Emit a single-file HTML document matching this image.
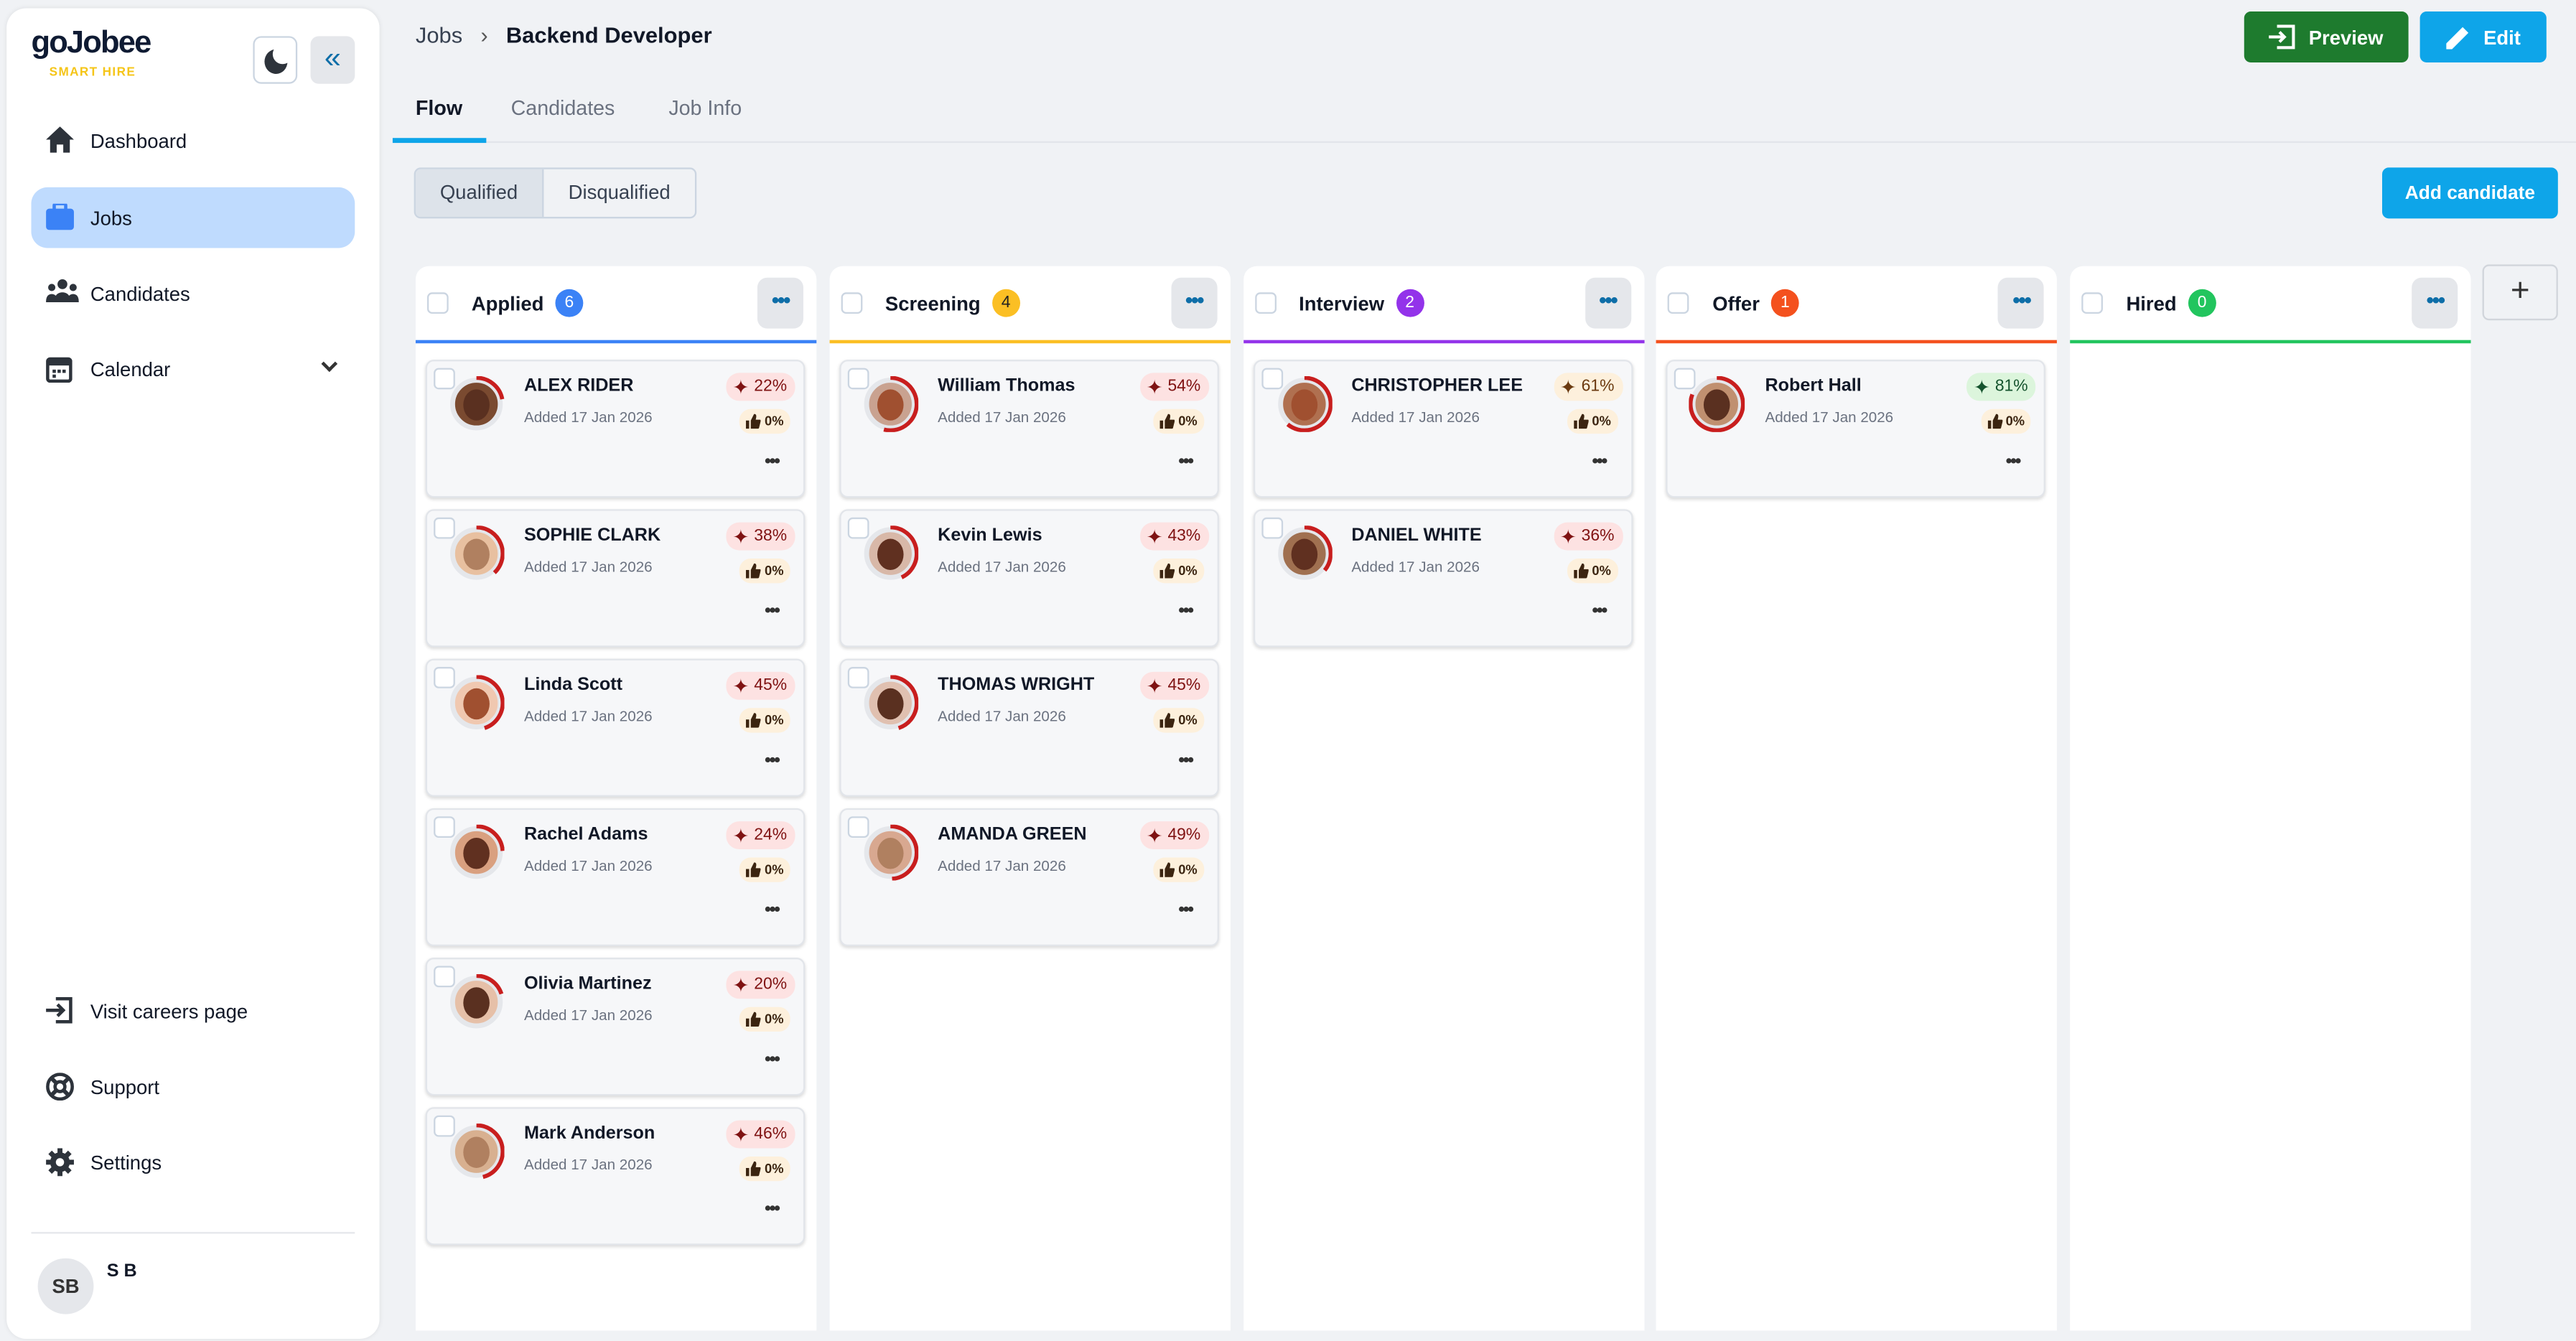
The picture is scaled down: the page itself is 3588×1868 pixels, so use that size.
<!DOCTYPE html>
<html><head><meta charset="utf-8">
<style>
*{box-sizing:border-box;margin:0;padding:0}
html,body{width:3588px;height:1868px;overflow:hidden;background:#f0f2f5}
#root{width:1568px;height:816px;transform:scale(2.28827);transform-origin:0 0;position:relative;font-family:"Liberation Sans",sans-serif;color:#111827;background:#f0f2f5}
.abs{position:absolute}
.side{left:4px;top:5px;width:227px;height:810px;background:#fff;border-radius:12px;box-shadow:0 0 3px rgba(0,0,0,.08)}
.nav{position:absolute;left:15px;width:197px;height:37px;display:flex;align-items:center;font-size:12px;padding-left:36px;border-radius:10px}
.nav svg{position:absolute;left:9px;top:10px}
.col{position:absolute;top:162px;width:244px;height:648px;background:#fff;border-radius:8px 8px 0 0}
.colhead{height:47px;border-bottom:2px solid;display:flex;align-items:center;position:relative}
.cb{width:13px;height:13px;border:1.5px solid #cbd5e1;border-radius:3px;background:#fff}
.badge{display:inline-flex;align-items:center;justify-content:center;width:17px;height:17px;border-radius:50%;font-size:10px;color:#fff;margin-left:7px}
.more{position:absolute;right:8px;top:7px;width:28px;height:31px;background:#e5e7eb;border-radius:6px;color:#0e6ea8;font-size:13px;font-weight:bold;text-align:center;line-height:28px;letter-spacing:-1px}
.card{position:absolute;left:6px;width:231px;height:84px;background:#f6f7f9;border:1px solid #e2e5ea;border-radius:5px;box-shadow:0 1px 2px rgba(0,0,0,.15)}
.card .cb{position:absolute;left:4px;top:4px;width:13px;height:13px;border-radius:3px}
.av{position:absolute;left:14px;top:10px;width:32px;height:32px;border-radius:50%;border:3px solid #e5e7eb;background:#c79a7a}
.av i{position:absolute;left:5px;top:4px;width:16px;height:19px;border-radius:50%;background:#7a4d35}
.nm{position:absolute;left:59px;top:9px;font-size:11px;font-weight:bold;color:#111827}
.dt{position:absolute;left:59px;top:29px;font-size:9px;color:#6b7280}
.sc{position:absolute;right:5px;top:7px;height:17px;padding:0 5px 0 4px;border-radius:8px;background:#fde2e2;color:#7f1212;font-size:10px;display:flex;align-items:center;gap:3px}
.th{position:absolute;right:8px;top:29px;height:15px;padding:0 4px;border-radius:7px;background:#fdf0dc;color:#3b2410;font-size:8px;font-weight:bold;display:flex;align-items:center;gap:2px}
.cd{position:absolute;right:15px;top:55px;font-size:11px;font-weight:bold;color:#333;letter-spacing:-1px}
.btn{position:absolute;top:7px;height:31px;border-radius:4px;color:#fff;font-size:12px;font-weight:bold;display:flex;align-items:center;justify-content:center;gap:8px}
</style></head><body>
<div id="root">
<div class="abs side">
  <div class="abs" style="left:15px;top:11px;font-size:19px;font-weight:900;color:#0f1b33;letter-spacing:-.8px">goJobee</div>
  <div class="abs" style="left:26px;top:34px;font-size:7.5px;font-weight:bold;color:#f5c518;letter-spacing:.6px">SMART HIRE</div>
  <div class="abs" style="left:150px;top:17px;width:27px;height:29px;border:1px solid #cbd5e1;border-radius:5px;background:#fff"><div style="position:absolute;left:6px;top:7px;width:14px;height:15px;border-radius:50%;background:#2d333b"></div><div style="position:absolute;left:11px;top:4px;width:12px;height:12px;border-radius:50%;background:#fff"></div></div>
  <div class="abs" style="left:185px;top:17px;width:27px;height:29px;border-radius:5px;background:#e5e7eb;color:#0e6ea8;font-size:18px;text-align:center;line-height:27px">«</div>
  <div class="nav" style="top:62px"><svg width="17" height="16" viewBox="0 0 17 16"><path d="M8.5 0L0 8h2.5v8h4v-5h4v5h4V8H17z" fill="#2d333b"/></svg>Dashboard</div>
  <div class="nav" style="top:109px;background:#bfdbfe"><svg width="17" height="16" viewBox="0 0 17 16"><rect x="0" y="3" width="17" height="13" rx="2" fill="#3b82f6"/><rect x="5" y="0" width="7" height="5" rx="1" fill="none" stroke="#3b82f6" stroke-width="2"/></svg>Jobs</div>
  <div class="nav" style="top:155px"><svg width="20" height="14" viewBox="0 0 20 14"><circle cx="10" cy="3" r="3" fill="#2d333b"/><circle cx="3.5" cy="5" r="2.2" fill="#2d333b"/><circle cx="16.5" cy="5" r="2.2" fill="#2d333b"/><path d="M5 14c0-4 2-6 5-6s5 2 5 6zM0 14c0-3 1-5 3.5-5S7 11 7 14zM13 14c0-3 1-5 3.5-5S20 11 20 14z" fill="#2d333b"/></svg>Candidates</div>
  <div class="nav" style="top:201px"><svg width="16" height="17" viewBox="0 0 16 17"><rect x="1" y="2.5" width="14" height="13.5" rx="1.5" fill="none" stroke="#2d333b" stroke-width="2"/><rect x="1" y="2.5" width="14" height="4" fill="#2d333b"/><rect x="4" y="9" width="2" height="2" fill="#2d333b"/><rect x="7" y="9" width="2" height="2" fill="#2d333b"/><rect x="10" y="9" width="2" height="2" fill="#2d333b"/><rect x="4" y="12" width="2" height="2" fill="#2d333b"/></svg>Calendar<span style="position:absolute;right:12px;top:12px;width:7px;height:7px;border-right:2px solid #333;border-bottom:2px solid #333;transform:rotate(45deg)"></span></div>
  <div class="nav" style="top:592px"><svg width="17" height="16" viewBox="0 0 17 16"><path d="M6 1h9v14H6" fill="none" stroke="#2d333b" stroke-width="2"/><path d="M0 8h10M7 4.5l3.5 3.5L7 11.5" fill="none" stroke="#2d333b" stroke-width="2"/></svg>Visit careers page</div>
  <div class="nav" style="top:638px"><svg width="17" height="17" viewBox="0 0 17 17"><circle cx="8.5" cy="8.5" r="7.5" fill="none" stroke="#2d333b" stroke-width="2"/><circle cx="8.5" cy="8.5" r="3" fill="none" stroke="#2d333b" stroke-width="2"/><path d="M3 3l3 3M14 3l-3 3M3 14l3-3M14 14l-3-3" stroke="#2d333b" stroke-width="2.5"/></svg>Support</div>
  <div class="nav" style="top:684px"><svg width="17" height="17" viewBox="0 0 17 17"><circle cx="8.5" cy="8.5" r="6" fill="#2d333b"/><path d="M8.5 0v17M0 8.5h17M2.5 2.5l12 12M14.5 2.5l-12 12" stroke="#2d333b" stroke-width="3"/><circle cx="8.5" cy="8.5" r="2.5" fill="#fff"/></svg>Settings</div>
  <div class="abs" style="left:15px;top:745px;width:197px;height:1px;background:#e5e7eb"></div>
  <div class="abs" style="left:19px;top:761px;width:34px;height:34px;border-radius:50%;background:#e5e7eb;font-size:12px;font-weight:bold;color:#333;text-align:center;line-height:34px">SB</div>
  <div class="abs" style="left:61px;top:763px;font-size:11px;font-weight:bold">S B</div>
</div>

<div class="abs" style="left:253px;top:14px;font-size:13.5px;color:#374151"><span>Jobs</span><span style="margin:0 11px;color:#555">›</span><b style="color:#111827">Backend Developer</b></div>
<div class="btn" style="left:1366px;width:100px;background:#1e7b2e"><svg width="16" height="15" viewBox="0 0 16 15"><path d="M5 1h10v13H5" fill="none" stroke="#fff" stroke-width="1.8"/><path d="M0 7.5h9M6.5 4.5l3 3-3 3" fill="none" stroke="#fff" stroke-width="1.8"/></svg>Preview</div>
<div class="btn" style="left:1473px;width:77px;background:#0ea5e9"><svg width="15" height="15" viewBox="0 0 15 15"><path d="M0 15v-3.5L10 1.5l3.5 3.5-10 10z" fill="#fff"/></svg>Edit</div>

<div class="abs" style="left:239px;top:86px;width:1329px;height:1px;background:#e2e5ea"></div>
<div class="abs" style="left:253px;top:59px;font-size:12.5px;font-weight:bold">Flow</div>
<div class="abs" style="left:239px;top:84px;width:57px;height:3px;background:#0ea5e9"></div>
<div class="abs" style="left:311px;top:59px;font-size:12.5px;color:#6b7280">Candidates</div>
<div class="abs" style="left:407px;top:59px;font-size:12.5px;color:#6b7280">Job Info</div>

<div class="abs" style="left:252px;top:102px;width:172px;height:31px;border:1px solid #cbd5e1;border-radius:4px;display:flex;font-size:12px;overflow:hidden">
<div style="width:78px;background:#dde3ea;border-right:1px solid #cbd5e1;text-align:center;line-height:29px;color:#374151">Qualified</div>
<div style="flex:1;text-align:center;line-height:29px;color:#374151">Disqualified</div></div>
<div class="btn" style="left:1450px;top:102px;width:107px;background:#0ea5e9;font-size:11.5px">Add candidate</div>
<div class="abs" style="left:1511px;top:161px;width:46px;height:34px;border:1px solid #d1d5db;border-radius:4px;background:#f0f2f5;font-size:20px;text-align:center;line-height:31px;color:#333">+</div>
<div id="board"></div>
</div>
<script>
const stages=["Applied","Screening","Interview","Offer","Hired"];
const stageColors=["#3b82f6","#fbbf24","#9333ea","#f4511e","#22c55e"];
const names=[["ALEX RIDER","SOPHIE CLARK","Linda Scott","Rachel Adams","Olivia Martinez","Mark Anderson"],["William Thomas","Kevin Lewis","THOMAS WRIGHT","AMANDA GREEN"],["CHRISTOPHER LEE","DANIEL WHITE"],["Robert Hall"],[]];
const scores=[[22,38,45,24,20,46],[54,43,45,49],[61,36],[81],[]];
const skin=["#7a4a30","#e8c0a0","#f0c8b0","#d9a080","#e6c0a8","#d8b090","#c9a290","#d8b8a8","#e0c0b0","#d8a890","#b07050","#a07050","#c09070"];
const board=document.getElementById('board');
let k=0;
stages.forEach((s,i)=>{
  const col=document.createElement('div');
  col.className='col';col.style.left=(253+i*251.8)+'px';
  
  
  col.innerHTML=`<div class="colhead" style="border-color:${stageColors[i]}"><div class="cb" style="margin:0 14px 0 7px"></div><b style="font-size:12px">${s}</b><span class="badge" style="background:${stageColors[i]};color:${i==1?'#222':'#fff'}">${names[i].length}</span><div class="more">•••</div></div>`;
  names[i].forEach((n,j)=>{
    const sc=scores[i][j];
    const c=document.createElement('div');
    c.className='card';c.style.top=(57+j*91)+'px';
    
    
    const hi=sc>=60;
    const bg=sc>=80?'#dcf5dc':hi?'#fdf0dc':'#fde2e2';const fg=sc>=80?'#14532d':hi?'#6b3a10':'#7f1212';
    const ang=sc/100*360;
    c.innerHTML=`<div class="av" style="background:${skin[k%skin.length]}"><i style="background:${['#5a3020','#b08060','#a05030','#603020'][k%4]}"></i></div>
<svg style="position:absolute;left:13px;top:9px" width="34" height="34" viewBox="0 0 34 34"><path d="M17 1 A16 16 0 ${ang>180?1:0} 1 ${17+16*Math.sin(ang*Math.PI/180)} ${17-16*Math.cos(ang*Math.PI/180)}" fill="none" stroke="#c81e1e" stroke-width="2.5"/></svg>
<div class="cb"></div>
<div class="nm">${n}</div><div class="dt">Added 17 Jan 2026</div>
<div class="sc" style="background:${bg};color:${fg}"><span style="font-size:12px">✦</span>${sc}%</div>
<div class="th"></div><div class="cd">•••</div>`;
    c.querySelector('.th').innerHTML='<svg width="9" height="9" viewBox="0 0 9 9"><path d="M0 4h2v5H0zM3 4l2-4c1 0 1.5.5 1.3 2L6 3.5h2.5c.5 0 .6.5.5 1L8 8.5c-.1.3-.4.5-.8.5H3z" fill="#3b2410"/></svg>0%';
    col.appendChild(c);k++;
  });
  board.appendChild(col);
});
</script>
</body></html>
